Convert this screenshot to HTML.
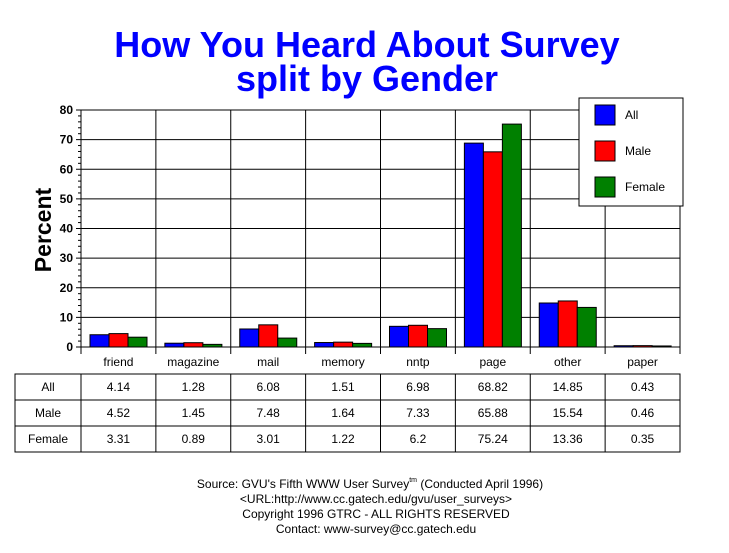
<!DOCTYPE html>
<html><head><meta charset="utf-8"><style>
html,body{margin:0;padding:0;background:#fff;}
svg{display:block;font-family:"Liberation Sans",Arial,sans-serif;}
</style></head><body>
<svg id="c" width="729" height="553" viewBox="0 0 729 553" xmlns="http://www.w3.org/2000/svg">
<text x="367" y="57" text-anchor="middle" font-size="36" font-weight="bold" fill="#0000ff">How You Heard About Survey</text>
<text x="367" y="91" text-anchor="middle" font-size="36" font-weight="bold" fill="#0000ff">split by Gender</text>
<text transform="translate(51,230) rotate(-90)" text-anchor="middle" font-size="23" font-weight="bold">Percent</text>
<g id="g"></g>
<g font-size="12" text-anchor="middle">
<text x="370" y="488">Source: GVU's Fifth WWW User Survey<tspan font-size="7" dy="-6">tm</tspan><tspan dy="6">  (Conducted April 1996)</tspan></text>
<text x="376" y="503">&lt;URL:http://www.cc.gatech.edu/gvu/user_surveys&gt;</text>
<text x="376" y="518">Copyright 1996 GTRC -  ALL RIGHTS RESERVED</text>
<text x="376" y="533">Contact: www-survey@cc.gatech.edu</text>
</g>
</svg>
<script>
var cats=["friend","magazine","mail","memory","nntp","page","other","paper"];
var d=[[4.14,1.28,6.08,1.51,6.98,68.82,14.85,0.43],[4.52,1.45,7.48,1.64,7.33,65.88,15.54,0.46],[3.31,0.89,3.01,1.22,6.2,75.24,13.36,0.35]];
var cols=["#0000ff","#ff0000","#008000"],names=["All","Male","Female"];
var x0=81,x1=680,y0=347,y80=110,step=(x1-x0)/8,s="";
function Y(v){return y0-(y0-y80)*v/80;}
for(var i=1;i<=8;i++){var y=Y(i*10);s+='<line x1="'+x0+'" y1="'+y+'" x2="'+x1+'" y2="'+y+'" stroke="#000"/>';}
for(var i=0;i<=8;i++){var x=x0+i*step;s+='<line x1="'+x+'" y1="'+y80+'" x2="'+x+'" y2="'+(y0+7)+'" stroke="#000"/>';}
for(var v=0;v<=80;v+=2){var y=Y(v);s+='<line x1="'+(x0-(v%10?3:5))+'" y1="'+y+'" x2="'+x0+'" y2="'+y+'" stroke="#000"/>';}
for(var v=0;v<=80;v+=10){s+='<text x="'+(x0-8)+'" y="'+(Y(v)+4)+'" text-anchor="end" font-size="12" font-weight="bold">'+v+'</text>';}
s+='<line x1="'+x0+'" y1="'+y0+'" x2="'+x1+'" y2="'+y0+'" stroke="#000"/>';
for(var c=0;c<8;c++){var bx=x0+c*step+9;
 for(var k=0;k<3;k++){var h=y0-Y(d[k][c]);s+='<rect x="'+(bx+k*19)+'" y="'+Y(d[k][c])+'" width="19" height="'+h+'" fill="'+cols[k]+'" stroke="#000"/>';}
 s+='<text x="'+(x0+c*step+step/2)+'" y="366" text-anchor="middle" font-size="12">'+cats[c]+'</text>';}
// legend
s+='<rect x="579" y="98" width="104" height="108" fill="#fff" stroke="#000"/>';
for(var k=0;k<3;k++){var ly=105+k*36;s+='<rect x="595" y="'+ly+'" width="20" height="20" fill="'+cols[k]+'" stroke="#000"/><text x="625" y="'+(ly+14)+'" font-size="12">'+names[k]+'</text>';}
// table
var tt=374,rows=[374,400,426,452];
s+='<rect x="15" y="374" width="'+(x1-15)+'" height="78" fill="none" stroke="#000"/>';
s+='<line x1="15" y1="400" x2="'+x1+'" y2="400" stroke="#000"/><line x1="15" y1="426" x2="'+x1+'" y2="426" stroke="#000"/>';
for(var i=0;i<8;i++){var x=x0+i*step;s+='<line x1="'+x+'" y1="374" x2="'+x+'" y2="452" stroke="#000"/>';}
for(var k=0;k<3;k++){var ty=rows[k]+17;s+='<text x="48" y="'+ty+'" text-anchor="middle" font-size="12">'+names[k]+'</text>';
 for(var c=0;c<8;c++)s+='<text x="'+(x0+c*step+step/2)+'" y="'+ty+'" text-anchor="middle" font-size="12">'+d[k][c]+'</text>';}
document.getElementById("g").innerHTML=s;
</script>
</body></html>
